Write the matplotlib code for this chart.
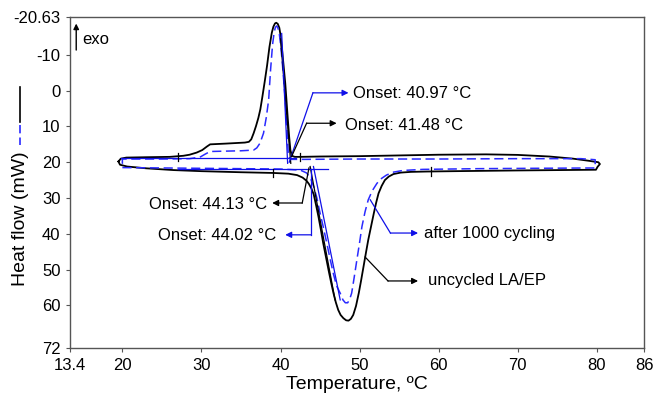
import matplotlib.pyplot as plt
from matplotlib.lines import Line2D

plt.rcParams['font.family'] = ['Liberation Sans', 'DejaVu Sans']

# uncycled LA/EP, heating branch (left -> right) then cooling branch (right -> left)
black_T = [19.5, 19.7, 20.6, 23.0, 26.5, 30.0, 35.0, 39.1, 41.0, 42.1, 42.8, 43.3, 43.6, 43.9,
           44.2, 44.5, 44.8, 45.1, 45.4, 45.75, 46.1, 46.4, 46.7, 47.0, 47.3, 47.6, 47.95, 48.3,
           48.6, 48.9, 49.2, 49.55, 49.9, 50.2, 50.5, 50.8, 51.1, 51.45, 51.8, 52.1, 52.4, 52.8,
           53.2, 53.7, 54.3, 55.2, 56.5, 58.5, 62.0, 66.0, 70.0, 75.0, 79.9, 80.1, 80.4,
           80.2, 79.0, 77.0, 74.0, 70.0, 66.0, 60.0, 55.0, 50.0, 45.0, 42.5, 41.8, 41.45, 41.25,
           41.1, 40.9, 40.75, 40.6, 40.4, 40.2, 40.0, 39.85, 39.65, 39.46, 39.3, 39.1, 38.9, 38.6,
           38.3, 38.0, 37.7, 37.45, 37.2, 36.9, 36.6, 36.3, 36.0, 35.5, 33.0, 31.1, 30.7, 30.1,
           29.4, 28.5, 27.7, 26.0, 23.0, 20.5, 19.8, 19.5]
black_H = [19.8, 20.7, 21.2, 21.7, 22.2, 22.5, 22.8, 23.0, 23.2, 23.6, 24.3, 25.2, 26.1, 27.3,
           29.0, 32.0, 35.2, 38.8, 42.6, 46.5, 50.4, 53.6, 56.6, 59.2, 61.3, 62.7, 63.6, 64.2,
           64.3, 63.8, 62.7, 60.2, 56.6, 53.0, 49.2, 45.4, 41.7, 38.0, 34.3, 31.3, 28.7, 26.6,
           25.0, 24.0, 23.3, 22.9, 22.7, 22.6, 22.5, 22.4, 22.3, 22.2, 22.1, 21.3, 20.5,
           20.0, 19.6, 19.0, 18.4, 17.95, 17.8, 17.9, 18.1, 18.3, 18.4, 18.5, 18.5, 18.2, 16.6,
           13.0, 7.2, 2.5, -2.1, -6.8, -11.4, -15.6, -17.6, -18.7, -19.0, -18.8, -17.9, -16.2, -12.2,
           -7.0, -2.5, 1.8, 5.2, 7.6, 9.9, 11.9, 13.6, 14.3, 14.5, 14.8, 15.0, 15.6, 16.6,
           17.3, 17.9, 18.2, 18.5, 18.6, 18.7, 19.0, 19.8]

# after 1000 cycling
blue_T = [20.0, 25.0, 30.0, 35.0, 40.0, 42.5, 43.3, 43.8, 44.2, 44.6, 45.0, 45.4, 45.85, 46.3,
          46.7, 47.1, 47.55, 47.9, 48.2, 48.5, 48.75, 49.0, 49.3, 49.66, 50.0, 50.3, 50.7, 51.1,
          51.6, 52.2, 52.8, 53.4, 54.2, 55.5, 58.0, 65.0, 72.0, 79.8,
          79.8, 78.0, 70.0, 60.0, 50.0, 43.0, 41.3, 41.0, 40.9, 40.75, 40.6, 40.4, 40.2, 40.0,
          39.85, 39.65, 39.5, 39.35, 39.2, 39.0, 38.75, 38.5, 38.2, 37.85, 37.4, 37.0, 36.6, 35.0,
          33.0, 31.1, 30.5, 29.8, 28.5, 25.0, 20.0, 20.0]
blue_H = [21.5, 21.6, 21.7, 21.8, 21.9, 22.2, 23.0, 24.5, 26.8, 30.0, 34.2, 38.0, 42.6, 47.3,
          51.3, 54.6, 56.6, 58.5, 59.3, 59.3, 58.3, 56.6, 52.5, 47.3, 42.5, 38.0, 33.8, 30.5,
          28.0, 25.9, 24.5, 23.6, 22.8, 22.3, 22.0, 21.8, 21.7, 21.6,
          19.3, 19.0, 19.0, 19.1, 19.1, 19.2, 19.2, 18.4, 13.8, 8.0, 2.6, -3.0, -8.6, -13.2,
          -15.9, -17.7, -18.1, -17.7, -16.3, -13.0, -6.0, 2.6, 7.5, 11.9, 14.7, 16.0, 16.6, 16.8,
          16.9, 17.0, 17.7, 18.6, 19.0, 19.1, 19.1, 21.5]

# onset construction lines
black_tangent_T = [[40.0, 41.3], [43.75, 46.9]]
black_tangent_H = [[-14.5, 20.3], [21.2, 58.5]]
blue_tangent_T = [[40.15, 40.9], [44.17, 47.55], [19.8, 42.0], [27.0, 46.0]]
blue_tangent_H = [[-16.0, 20.3], [21.2, 58.5], [18.8, 18.8], [21.9, 21.9]]

# integration limit marks on the uncycled curve
mark_T = [27.0, 42.5, 39.1, 59.0]
mark_H = [18.5, 18.5, 23.0, 22.6]

x_ticks = [13.4, 20, 30, 40, 50, 60, 70, 80, 86]
x_labels = ['13.4', '20', '30', '40', '50', '60', '70', '80', '86']
y_ticks = [-20.63, -10, 0, 10, 20, 30, 40, 50, 60, 72]
y_labels = ['-20.63', '-10', '0', '10', '20', '30', '40', '50', '60', '72']

BLUE = '#2a2aff'
DBLUE = '#1010e8'

fig = plt.figure(figsize=(6.56, 4.03), dpi=100)
ax = fig.add_axes([0.107, 0.136, 0.875, 0.822])

ax.plot(black_T, black_H, color='black', lw=1.3)
ax.plot(blue_T, blue_H, color=BLUE, lw=1.1, dashes=(6, 3))
for t, h in zip(black_tangent_T, black_tangent_H):
    ax.plot(t, h, color='black', lw=0.9)
for t, h in zip(blue_tangent_T, blue_tangent_H):
    ax.plot(t, h, color=DBLUE, lw=0.9)
for t, h in zip(mark_T, mark_H):
    ax.plot([t, t], [h - 1.2, h + 1.2], color='black', lw=0.9)

# leader lines with arrows: (text, color, start, bend, tip, text position, alignment)
labels = [
    ('Onset: 40.97 °C', DBLUE, (41.1, 20.0), (44.1, 0.6), (48.6, 0.6), (49.2, 0.9), 'left'),
    ('Onset: 41.48 °C', 'black', (41.4, 18.4), (43.3, 9.1), (47.1, 9.1), (48.1, 9.6), 'left'),
    ('Onset: 44.13 °C', 'black', (43.6, 21.6), (42.75, 31.4), (38.95, 31.4), (38.3, 31.8), 'right'),
    ('Onset: 44.02 °C', DBLUE, (43.9, 21.8), (43.9, 40.3), (40.6, 40.3), (39.4, 40.6), 'right'),
    ('after 1000 cycling', DBLUE, (51.35, 30.5), (53.9, 39.8), (57.4, 39.8), (58.2, 39.8), 'left'),
    ('uncycled LA/EP', 'black', (50.7, 46.5), (53.6, 53.2), (57.4, 53.2), (58.6, 53.2), 'left'),
]
for txt, c, p0, p1, p2, pt, ha in labels:
    ax.plot([p0[0], p1[0]], [p0[1], p1[1]], color=c, lw=0.9)
    ax.annotate('', xy=p2, xytext=p1,
                arrowprops=dict(arrowstyle='-|>', color=c, lw=0.9, mutation_scale=9,
                                shrinkA=0, shrinkB=0))
    ax.text(pt[0], pt[1], txt, fontsize=12, ha=ha, va='center', color='black')

ax.set_xlim(13.4, 86)
ax.set_ylim(72, -20.63)
ax.set_xticks(x_ticks)
ax.set_xticklabels(x_labels)
ax.set_yticks(y_ticks)
ax.set_yticklabels(y_labels)
ax.tick_params(direction='out', length=3, width=0.8, color='#555555', labelsize=12, pad=4)
for s in ax.spines.values():
    s.set_color('#555555')
    s.set_linewidth(1.0)

ax.set_xlabel('Temperature, ºC', fontsize=14, labelpad=2)

# exo arrow
ax.annotate('', xy=(0.0105, 0.98), xytext=(0.0105, 0.90), xycoords='axes fraction',
            arrowprops=dict(arrowstyle='-|>', color='black', lw=1, mutation_scale=8,
                            shrinkA=0, shrinkB=0))
ax.text(0.021, 0.932, 'exo', transform=ax.transAxes, fontsize=12, va='center')

# y label with line-style key
fig.text(0.0305, 0.458, 'Heat flow (mW)', rotation=90, fontsize=14, ha='center', va='center')
fig.add_artist(Line2D([0.0305, 0.0305], [0.784, 0.697], color='black', lw=1.2))
fig.add_artist(Line2D([0.0305, 0.0305], [0.690, 0.640], color=BLUE, lw=1.2, dashes=(5, 2.5)))

fig.savefig('out.png', dpi=100)
